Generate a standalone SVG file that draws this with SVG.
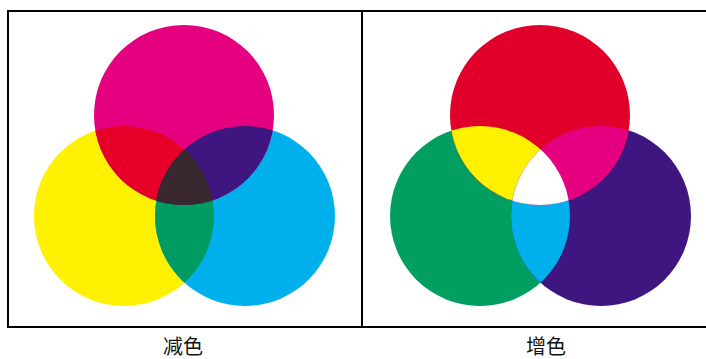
<svg xmlns="http://www.w3.org/2000/svg" width="706" height="359" viewBox="0 0 706 359">
<style>
.frame{fill:none;stroke:#000;stroke-width:2}
.lbl{font-family:"Noto Sans CJK SC","Noto Sans CJK JP",sans-serif;font-size:20px;fill:#111;text-anchor:middle}
</style>
<defs>
<clipPath id="cY"><circle cx="124" cy="216" r="90"/></clipPath>
<clipPath id="cC"><circle cx="245" cy="216" r="90"/></clipPath>
<clipPath id="cG"><circle cx="480" cy="216" r="90"/></clipPath>
<clipPath id="cB"><circle cx="601" cy="216" r="90"/></clipPath>
</defs>
<rect width="706" height="359" fill="#fff"/>
<g id="frames">
<rect class="frame" x="8" y="11" width="354" height="316"/>
<rect class="frame" x="362" y="11" width="346" height="316"/>
</g>
<g id="subtractive">
<circle cx="124" cy="216" r="90" fill="#FFF100"/>
<circle cx="245" cy="216" r="90" fill="#00B0EC"/>
<circle cx="184" cy="115" r="90" fill="#E4007F"/>
<g clip-path="url(#cY)"><circle cx="184" cy="115" r="90" fill="#E60029"/><circle cx="245" cy="216" r="90" fill="#009B63"/></g>
<g clip-path="url(#cC)"><circle cx="184" cy="115" r="90" fill="#3F157F"/></g>
<g clip-path="url(#cY)"><g clip-path="url(#cC)"><circle cx="184" cy="115" r="90" fill="#3A2831"/></g></g>
</g>
<g id="additive">
<circle cx="480" cy="216" r="90" fill="#009E61"/>
<circle cx="601" cy="216" r="90" fill="#3F157F"/>
<circle cx="540" cy="115" r="90" fill="#E0002A"/>
<g clip-path="url(#cG)"><circle cx="540" cy="115" r="90" fill="#FFF100"/><circle cx="601" cy="216" r="90" fill="#00B0EC"/></g>
<g clip-path="url(#cB)"><circle cx="540" cy="115" r="90" fill="#E4007F"/></g>
<g clip-path="url(#cG)"><g clip-path="url(#cB)"><circle cx="540" cy="115" r="90" fill="#FFFFFF"/></g></g>
</g>
<g id="labels">
<text class="lbl" x="183" y="354">减色</text>
<text class="lbl" x="546" y="354">增色</text>
</g>
</svg>
